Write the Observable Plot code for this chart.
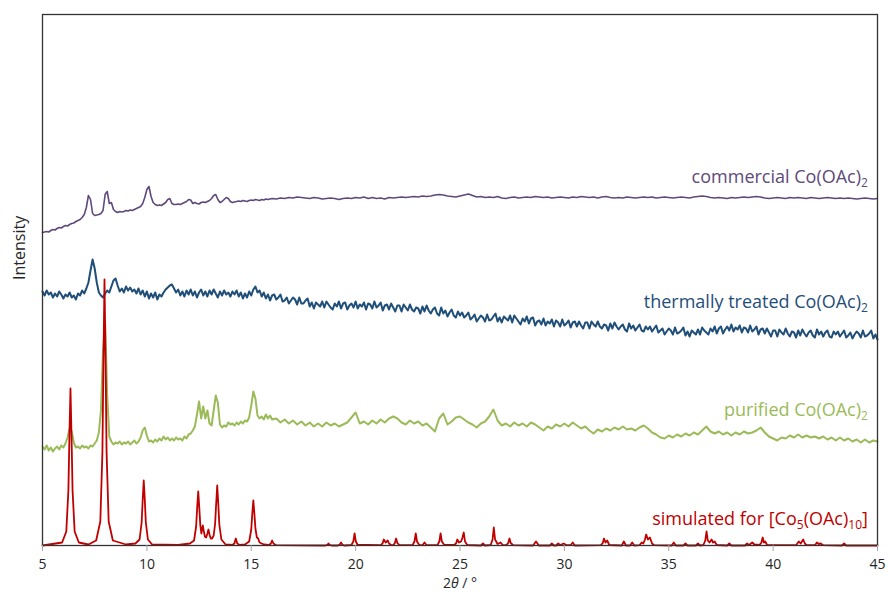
<!DOCTYPE html>
<html>
<head>
<meta charset="utf-8">
<script src="https://cdn.jsdelivr.net/npm/d3@7"></script>
<script src="https://cdn.jsdelivr.net/npm/@observablehq/plot@0.6"></script>
<style>
  html, body { margin: 0; padding: 0; background: #fff; }
  #chart svg { display: block; }
</style>
</head>
<body>
<div id="chart"></div>
<script>
// 2θ scan grid (degrees) for commercial and purified samples
const scanTheta = [
  5.0,5.1,5.2,5.3,5.4,5.5,5.6,5.7,5.8,5.9,
  6.0,6.1,6.2,6.3,6.4,6.5,6.6,6.7,6.8,6.9,
  7.0,7.1,7.2,7.3,7.4,7.5,7.6,7.7,7.8,7.9,
  8.0,8.1,8.2,8.3,8.4,8.5,8.6,8.7,8.8,8.9,
  9.0,9.1,9.2,9.3,9.4,9.5,9.6,9.7,9.8,9.9,
  10.0,10.1,10.2,10.3,10.4,10.5,10.6,10.7,10.8,10.9,
  11.0,11.1,11.2,11.3,11.4,11.5,11.6,11.7,11.8,11.9,
  12.0,12.1,12.2,12.3,12.4,12.5,12.6,12.7,12.8,12.9,
  13.0,13.1,13.2,13.3,13.4,13.5,13.6,13.7,13.8,13.9,
  14.0,14.1,14.2,14.3,14.4,14.5,14.6,14.7,14.8,14.9,
  15.0,15.1,15.2,15.3,15.4,15.5,15.6,15.7,15.8,15.9,
  16.0,
  16.2,16.4,16.6,16.8,17.0,17.2,17.4,17.6,17.8,18.0,
  18.2,18.4,18.6,18.8,19.0,19.2,19.4,19.6,19.8,20.0,
  20.2,20.4,20.6,20.8,21.0,21.2,21.4,21.6,21.8,22.0,
  22.2,22.4,22.6,22.8,23.0,23.2,23.4,23.6,23.8,24.0,
  24.2,24.4,24.6,24.8,25.0,25.2,25.4,25.6,25.8,26.0,
  26.2,26.4,26.6,26.8,27.0,27.2,27.4,27.6,27.8,28.0,
  28.2,28.4,28.6,28.8,29.0,29.2,29.4,29.6,29.8,30.0,
  30.2,30.4,30.6,30.8,31.0,31.2,31.4,31.6,31.8,32.0,
  32.2,32.4,32.6,32.8,33.0,33.2,33.4,33.6,33.8,34.0,
  34.2,34.4,34.6,34.8,35.0,35.2,35.4,35.6,35.8,36.0,
  36.2,36.4,36.6,36.8,37.0,37.2,37.4,37.6,37.8,38.0,
  38.2,38.4,38.6,38.8,39.0,39.2,39.4,39.6,39.8,40.0,
  40.2,40.4,40.6,40.8,41.0,41.2,41.4,41.6,41.8,42.0,
  42.2,42.4,42.6,42.8,43.0,43.2,43.4,43.6,43.8,44.0,
  44.2,44.4,44.6,44.8,45.0
];

// finer 2θ grid (degrees) for the thermally treated sample
const thermalTheta = [
  5.0,5.1,5.2,5.3,5.4,5.5,5.6,5.7,5.8,5.9,
  6.0,6.1,6.2,6.3,6.4,6.5,6.6,6.7,6.8,6.9,
  7.0,7.1,7.2,7.3,7.4,7.5,7.6,7.7,7.8,7.9,
  8.0,8.1,8.2,8.3,8.4,8.5,8.6,8.7,8.8,8.9,
  9.0,9.1,9.2,9.3,9.4,9.5,9.6,9.7,9.8,9.9,
  10.0,10.1,10.2,10.3,10.4,10.5,10.6,10.7,10.8,10.9,
  11.0,11.1,11.2,11.3,11.4,11.5,11.6,11.7,11.8,11.9,
  12.0,12.1,12.2,12.3,12.4,12.5,12.6,12.7,12.8,12.9,
  13.0,13.1,13.2,13.3,13.4,13.5,13.6,13.7,13.8,13.9,
  14.0,14.1,14.2,14.3,14.4,14.5,14.6,14.7,14.8,14.9,
  15.0,15.1,15.2,15.3,15.4,15.5,15.6,15.7,15.8,15.9,
  16.0,
  16.1,16.2,16.3,16.4,16.5,16.6,16.7,16.8,16.9,17.0,
  17.1,17.2,17.3,17.4,17.5,17.6,17.7,17.8,17.9,18.0,
  18.1,18.2,18.3,18.4,18.5,18.6,18.7,18.8,18.9,19.0,
  19.1,19.2,19.3,19.4,19.5,19.6,19.7,19.8,19.9,20.0,
  20.1,20.2,20.3,20.4,20.5,20.6,20.7,20.8,20.9,21.0,
  21.1,21.2,21.3,21.4,21.5,21.6,21.7,21.8,21.9,22.0,
  22.1,22.2,22.3,22.4,22.5,22.6,22.7,22.8,22.9,23.0,
  23.1,23.2,23.3,23.4,23.5,23.6,23.7,23.8,23.9,24.0,
  24.1,24.2,24.3,24.4,24.5,24.6,24.7,24.8,24.9,25.0,
  25.1,25.2,25.3,25.4,25.5,25.6,25.7,25.8,25.9,26.0,
  26.1,26.2,26.3,26.4,26.5,26.6,26.7,26.8,26.9,27.0,
  27.1,27.2,27.3,27.4,27.5,27.6,27.7,27.8,27.9,28.0,
  28.1,28.2,28.3,28.4,28.5,28.6,28.7,28.8,28.9,29.0,
  29.1,29.2,29.3,29.4,29.5,29.6,29.7,29.8,29.9,30.0,
  30.1,30.2,30.3,30.4,30.5,30.6,30.7,30.8,30.9,31.0,
  31.1,31.2,31.3,31.4,31.5,31.6,31.7,31.8,31.9,32.0,
  32.1,32.2,32.3,32.4,32.5,32.6,32.7,32.8,32.9,33.0,
  33.1,33.2,33.3,33.4,33.5,33.6,33.7,33.8,33.9,34.0,
  34.1,34.2,34.3,34.4,34.5,34.6,34.7,34.8,34.9,35.0,
  35.1,35.2,35.3,35.4,35.5,35.6,35.7,35.8,35.9,36.0,
  36.1,36.2,36.3,36.4,36.5,36.6,36.7,36.8,36.9,37.0,
  37.1,37.2,37.3,37.4,37.5,37.6,37.7,37.8,37.9,38.0,
  38.1,38.2,38.3,38.4,38.5,38.6,38.7,38.8,38.9,39.0,
  39.1,39.2,39.3,39.4,39.5,39.6,39.7,39.8,39.9,40.0,
  40.1,40.2,40.3,40.4,40.5,40.6,40.7,40.8,40.9,41.0,
  41.1,41.2,41.3,41.4,41.5,41.6,41.7,41.8,41.9,42.0,
  42.1,42.2,42.3,42.4,42.5,42.6,42.7,42.8,42.9,43.0,
  43.1,43.2,43.3,43.4,43.5,43.6,43.7,43.8,43.9,44.0,
  44.1,44.2,44.3,44.4,44.5,44.6,44.7,44.8,44.9,45.0
];

// commercial Co(OAc)2 (offset intensity, arb. units)
const commercial = [
  313,313.5,314,313.5,315,316,315.5,317,318,317.5,
  319,320,319.5,321,322,322.5,324,325,326,328,
  331,338,350,346,332,330,330.5,331,332,335,
  351,354,342,343,336,334,333,334,333.5,334,
  335,334.5,335.5,335,336,337,338,339,342,348,
  356,359,349,343,341,340,340.5,340,341.5,343,
  346,347,342,341,341,341.5,341,342,343,344,
  346,345.5,342,343,342,341.5,343,343.5,343,344,
  345,347,350,351,346,343,344,346,348,347,
  344,343,343.5,344,344.5,344,345,344.5,344,345,
  345.5,345,346,345.5,345,346,345.5,346.5,346,346.5,
  347,
  346.5,347.5,347,348,347.5,348.5,348,347.5,347,348,
  347.5,346.5,347,347.5,347,346,347,347.5,347,348,
  347.5,348.5,347,348,347,347.5,346.5,348,347.5,348,
  348.5,348,348.5,349,348.5,349.5,349,349.5,350.5,351,
  350.5,349.5,349,348.5,349.5,350.5,351.5,350,348.5,349,
  348,348.5,348,349,347.5,347,348,348.5,347.5,348,
  348.5,348,349,348.5,348,348.5,347.5,348,348.5,348,
  347.5,348.5,348,349,348.5,348,348.5,347.5,348.5,349,
  348,347.5,348,347.5,348.5,348,347.5,348,348.5,348,
  348.5,347.5,348,348.5,348,347.5,348,348.5,348,347.5,
  348.5,349,349.5,349,348,347.5,348,347.5,347,348,
  347.5,348,348.5,348,348.5,349,348.5,347.5,347,347.5,
  348,347.5,347,348,347.5,348,347.5,347,348,347.5,
  347,347.5,348,347.5,347,347.5,347,347.5,347,346.5,
  347,347.5,347,346.5,347
];

// thermally treated Co(OAc)2 (on thermalTheta)
const thermal = [
  254,250,255,251,253,248,252,249,254,251,
  247,251,249,253,248,250,246,252,250,255,
  252,257,263,275,286,277,263,253,250,248,
  252,255,253,259,265,267,260,254,257,253,
  259,255,258,254,256,252,257,251,255,249,
  254,247,252,248,253,246,251,249,253,256,
  258,260,261,257,253,256,250,254,249,255,
  251,256,250,254,248,253,256,250,254,249,
  255,251,256,252,248,254,250,255,251,253,
  249,254,251,255,249,253,247,252,248,254,
  250,256,259,253,255,249,253,247,251,245,
  250,
  251,246,248,251,244,245,248,242,245,248,
  246,241,248,242,242,245,247,239,243,237,
  243,241,239,244,238,244,241,238,236,242,
  239,244,237,242,243,236,240,242,238,244,
  237,241,239,243,236,242,241,237,244,238,
  240,243,235,240,241,236,242,238,234,240,
  240,234,241,238,235,241,236,234,238,237,
  232,239,234,240,235,232,236,238,232,230,
  238,232,235,229,233,236,230,228,234,230,
  233,228,230,233,226,228,231,224,227,230,
  228,224,231,225,226,229,232,224,228,223,
  229,227,225,230,223,230,227,224,221,227,
  224,229,222,227,228,220,224,225,221,227,
  220,224,222,226,219,225,223,219,226,220,
  222,225,218,223,224,219,224,220,217,223,
  223,217,224,221,219,224,219,217,221,220,
  215,222,217,223,219,216,219,221,216,214,
  222,217,220,215,218,221,215,214,219,216,
  219,214,217,220,213,215,217,211,214,217,
  215,211,218,212,213,215,218,210,214,209,
  215,213,211,216,211,218,215,213,211,217,
  214,219,212,217,219,212,216,219,215,221,
  214,218,216,220,213,218,217,213,220,214,
  216,219,211,216,217,212,217,213,209,215,
  215,209,216,213,211,217,212,209,214,213,
  208,215,210,216,212,209,213,215,210,208,
  216,211,214,209,213,215,209,208,214,211,
  214,209,212,215,208,210,213,207,211,214,
  212,208,215,209,210,212,215,207,211,206
];

// purified Co(OAc)2
const purified = [
  99,96,100,95,98,94,97,99,96,100,
  98,102,108,117,114,103,98,99,97,100,
  98,99,97,100,99,102,105,113,135,195,
  224,150,109,104,101,103,102,104,101,103,
  102,104,101,103,105,102,104,108,115,118,
  110,104,105,103,106,104,107,105,109,106,
  108,105,107,105,108,106,107,105,109,107,
  111,112,115,119,131,144,127,139,127,135,
  122,120,135,150,143,121,118,120,119,123,
  121,122,120,123,121,124,122,125,124,128,
  140,154,147,130,127,129,126,131,127,130,
  126,
  127,123,126,122,125,121,124,120,123,119,
  122,119,123,120,122,119,121,123,128,133,
  122,124,121,125,122,126,123,127,129,127,
  123,121,125,122,124,120,122,118,114,127,
  132,121,124,128,129,126,123,121,118,122,
  124,129,136,125,120,122,119,123,120,122,
  119,123,121,118,115,119,117,121,119,122,
  119,123,120,117,119,115,112,116,114,117,
  115,118,116,119,116,117,115,118,120,117,
  113,111,108,107,110,108,111,109,112,110,
  113,111,115,119,114,112,114,111,113,110,
  113,111,114,112,113,115,118,113,109,107,
  105,108,107,110,108,111,108,110,108,109,
  107,109,106,108,105,108,105,107,104,106,
  103,106,103,105,104
];

// simulated for [Co5(OAc)10]: [2θ, intensity]
const simulated = [
  [5.0,0],[5.94,3],[6.14,14],[6.24,55],[6.29,110],[6.34,157],[6.39,110],[6.44,55],[6.54,14],[6.74,3],
  [7.2,1],[7.57,5],[7.77,24],[7.87,93],[7.92,186],[7.97,266],[8.02,186],[8.07,93],[8.17,24],[8.37,5],
  [9.0,1],[9.45,2],[9.65,6],[9.75,23],[9.80,46],[9.85,65],[9.90,46],[9.95,23],[10.05,6],[10.25,1],
  [11.5,0.5],[12.06,2],[12.26,5],[12.36,19],[12.41,38],[12.46,54],[12.51,38],[12.56,20],[12.61,12],
  [12.64,16],[12.68,20],[12.72,15],[12.78,9],[12.84,8],[12.9,12],[12.95,16],[13.0,11],[13.06,7],
  [13.12,7],[13.2,10],[13.27,22],[13.32,42],[13.37,60],[13.42,42],[13.47,21],[13.57,6],[13.77,1],
  [14.1,0.5],[14.19,2],[14.26,7],[14.33,2],[14.45,0.5],[14.7,1],[14.9,4],[15.0,16],[15.05,32],
  [15.1,45],[15.15,32],[15.2,17],[15.27,8],[15.33,7],[15.4,3],[15.6,1],[15.86,0.5],[15.94,2],
  [16.0,5],[16.06,2],[16.2,0.3],[18.55,0],[18.64,0.7],[18.7,2],[18.76,0.7],[18.85,0],[19.15,0],
  [19.24,1],[19.3,3],[19.36,1],[19.45,0],[19.8,0.5],[19.89,4],[19.95,12],[20.01,4],[20.1,0.5],
  [20.6,0.5],[21.2,0.3],[21.29,2],[21.35,6],[21.44,3],[21.54,5],[21.6,2],[21.7,0.5],[21.8,0.3],
  [21.88,2.5],[21.94,7],[22.0,2.5],[22.1,0.3],[22.73,0.5],[22.82,4],[22.88,12],[22.94,4],[23.05,0.5],
  [23.2,0.3],[23.3,3],[23.4,0.3],[23.92,0.5],[24.01,4],[24.07,12],[24.13,4],[24.25,0.5],[24.72,0.5],
  [24.81,2],[24.87,6],[24.95,3],[25.05,4],[25.12,8],[25.18,13],[25.24,4],[25.35,0.5],[26.0,0],
  [26.1,2],[26.2,0],[26.47,0.5],[26.56,6],[26.62,18],[26.68,6],[26.8,1.5],[26.94,3],[27.05,0.5],
  [27.22,0.3],[27.31,2.5],[27.37,7],[27.43,2.5],[27.55,0.3],[28.5,0],[28.64,4],[28.78,0],[29.3,0],
  [29.4,2],[29.5,0],[29.6,0],[29.7,2],[29.8,0.5],[29.97,2],[30.1,0.3],[30.3,0.3],[30.4,3],[30.5,0],
  [31.75,0.3],[31.84,2.5],[31.9,7],[31.97,3],[32.05,5],[32.15,0.5],[32.75,0],[32.85,4],[32.95,0],
  [33.15,0],[33.25,3],[33.35,0],[33.6,0.3],[33.7,3],[33.78,2],[33.86,6],[33.92,11],[34.0,6],
  [34.1,8],[34.2,2],[34.3,0.3],[35.14,0],[35.24,3],[35.34,0],[35.7,0],[35.8,2],[35.9,0],[36.3,0],
  [36.4,2],[36.5,0],[36.66,0.5],[36.75,5],[36.81,14],[36.87,5],[36.95,3],[37.05,6],[37.12,3],
  [37.2,4],[37.3,0.5],[37.8,0],[37.9,2],[38.0,0],[38.65,0],[38.75,2],[38.85,0.5],[39.0,3],[39.1,1],
  [39.35,0.5],[39.44,3],[39.5,8],[39.56,3],[39.62,4],[39.72,0.3],[41.1,0.3],[41.23,4],[41.32,2],
  [41.44,6],[41.52,2],[41.6,0.3],[42.0,0.3],[42.1,3],[42.18,1.5],[42.28,2],[42.4,0.3],[43.3,0],
  [43.4,2],[43.5,0],[45.0,0]
];

const xTicks = [5, 10, 15, 20, 25, 30, 35, 40, 45];
const seriesLabels = [
  "commercial Co(OAc)_{2}",
  "thermally treated Co(OAc)_{2}",
  "purified Co(OAc)_{2}",
  "simulated for [Co_{5}(OAc)_{10}]"
];
const labelLevels = [363, 238, 130, 21];
const seriesColors = ["#60497a", "#1f4e79", "#9bbb59", "#c00000"];

if (commercial.length !== scanTheta.length || purified.length !== scanTheta.length || thermal.length !== thermalTheta.length) {
  console.error("length mismatch", scanTheta.length, commercial.length, purified.length, thermalTheta.length, thermal.length);
}

const toRows = (grid, vals) => grid.map((t, i) => ({t, v: vals[i]}));
const commercialData = toRows(scanTheta, commercial);
const thermalData = toRows(thermalTheta, thermal);
const purifiedData = toRows(scanTheta, purified);
const simData = simulated.map(([t, v]) => ({t, v}));
const labelData = seriesLabels.map((s, i) => ({s, v: labelLevels[i], c: seriesColors[i], t: 44.54}));

const chart = Plot.plot({
  width: 888,
  height: 592,
  marginLeft: 42,
  marginRight: 11,
  marginTop: 14,
  marginBottom: 47,
  style: {fontFamily: "'Open Sans', 'Noto Sans', sans-serif", fontSize: "14px", background: "#fff", color: "#262626"},
  x: {domain: [5, 45]},
  y: {domain: [0, 531], axis: null},
  marks: [
    Plot.line(commercialData, {x: "t", y: "v", stroke: seriesColors[0], strokeWidth: 1.6}),
    Plot.line(thermalData, {x: "t", y: "v", stroke: seriesColors[1], strokeWidth: 2}),
    Plot.line(purifiedData, {x: "t", y: "v", stroke: seriesColors[2], strokeWidth: 2}),
    Plot.line(simData, {x: "t", y: "v", stroke: seriesColors[3], strokeWidth: 1.8}),
    Plot.frame({stroke: "#333", strokeWidth: 1.3}),
    Plot.axisX({ticks: xTicks, tickSize: 6, tickPadding: 8, stroke: "#a6a6a6", fill: "#262626", fontSize: 14, label: null, tickFormat: d => String(d)}),
    Plot.text(labelData, {x: "t", y: "v", text: "s", fill: "c", textAnchor: "end", lineAnchor: "bottom", fontSize: 18}),
    Plot.text(["2θ / °"], {frameAnchor: "bottom", dy: 42, lineAnchor: "bottom", fontSize: 14, fill: "#262626"}),
    Plot.text(["Intensity"], {frameAnchor: "left", dx: -18, rotate: -90, lineAnchor: "bottom", fontSize: 16, fill: "#262626"})
  ]
});

// rich text: subscripts and italic theta
d3.select(chart).selectAll("text").each(function() {
  const t = this.textContent;
  if (!/_\{|θ/.test(t)) return;
  const parts = t.split(/(_\{[^}]*\}|θ)/).filter(s => s.length);
  const sel = d3.select(this);
  sel.text("");
  let shifted = false;
  for (const p of parts) {
    const ts = sel.append("tspan");
    if (p.startsWith("_{")) {
      ts.text(p.slice(2, -1)).attr("font-size", "12px").attr("dy", shifted ? null : 4);
      shifted = true;
    } else {
      if (shifted) { ts.attr("dy", -4); shifted = false; }
      if (p === "θ") ts.attr("font-style", "italic");
      ts.text(p);
    }
  }
});

document.getElementById("chart").appendChild(chart);
</script>
</body>
</html>
